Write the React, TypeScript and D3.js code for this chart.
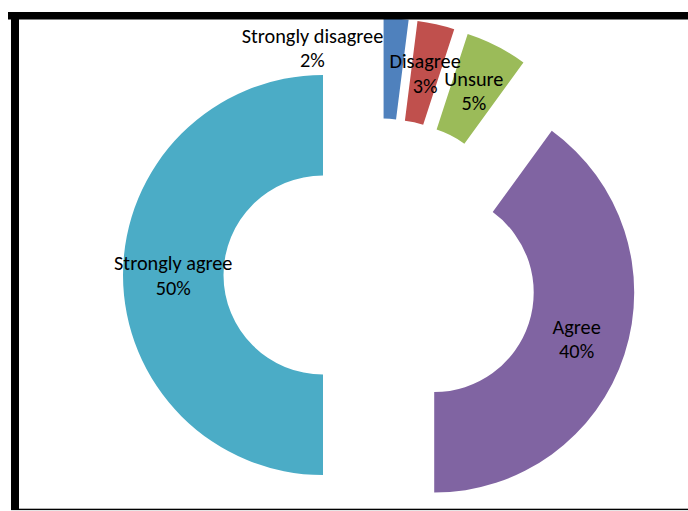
import React from "react";
import * as d3 from "d3";

const categories = ["Strongly disagree", "Disagree", "Unsure", "Agree", "Strongly agree"];
const values = [2, 3, 5, 40, 50];
const colors = ["#4F81BD", "#C0504D", "#9BBB59", "#8064A2", "#4BACC6"];

const W = 688;
const H = 511;
const CX = 380;
const CY = 275;
const R_OUT = 200;
const R_IN = 99.5;
const EXPLODE = 57;
const FONT = "Carlito, Calibri, Lato, sans-serif";
const FONT_SIZE = 20.3;
const LINE = 24.5;

export default function App() {
  const total = d3.sum(values);
  const pie = d3
    .pie<number>()
    .sort(null)
    .startAngle(0)
    .endAngle(2 * Math.PI)
    .value((d) => d);
  const arcs = pie(values);
  const arc = d3.arc<d3.PieArcDatum<number>>().innerRadius(R_IN).outerRadius(R_OUT);
  const fmt = d3.format(".0%");

  return (
    <svg
      width={W}
      height={H}
      style={{ position: "absolute", left: 0, top: 0, background: "#fff" }}
    >
      <rect x={0} y={0} width={W} height={H} fill="#fff" />
      {arcs.map((a, i) => {
        const mid = (a.startAngle + a.endAngle) / 2;
        const ox = CX + EXPLODE * Math.sin(mid);
        const oy = CY - EXPLODE * Math.cos(mid);
        return (
          <g key={categories[i]} transform={`translate(${ox},${oy})`}>
            <path d={arc(a) || ""} fill={colors[i]} />
          </g>
        );
      })}
      {arcs.map((a, i) => {
        const mid = (a.startAngle + a.endAngle) / 2;
        const ox = CX + EXPLODE * Math.sin(mid);
        const oy = CY - EXPLODE * Math.cos(mid);
        let [lx, ly] = arc.centroid(a);
        lx += ox;
        ly += oy;
        if (i === 0) {
          // manually moved label in the source
          lx -= 80.5;
          ly -= 21;
        }
        return (
          <text
            key={"l" + i}
            x={lx}
            y={ly - 5}
            textAnchor="middle"
            fontFamily={FONT}
            fontSize={FONT_SIZE}
            fill="#000"
          >
            <tspan x={lx}>{categories[i]}</tspan>
            <tspan x={lx} dy={LINE}>
              {fmt(values[i] / total)}
            </tspan>
          </text>
        );
      })}
      {/* frame */}
      <rect x={8} y={12} width={W - 8} height={7.5} fill="#000" />
      <rect x={11} y={12} width={8} height={498} fill="#000" />
      <rect x={11} y={508.7} width={W - 11} height={1.4} fill="#000" />
    </svg>
  );
}
